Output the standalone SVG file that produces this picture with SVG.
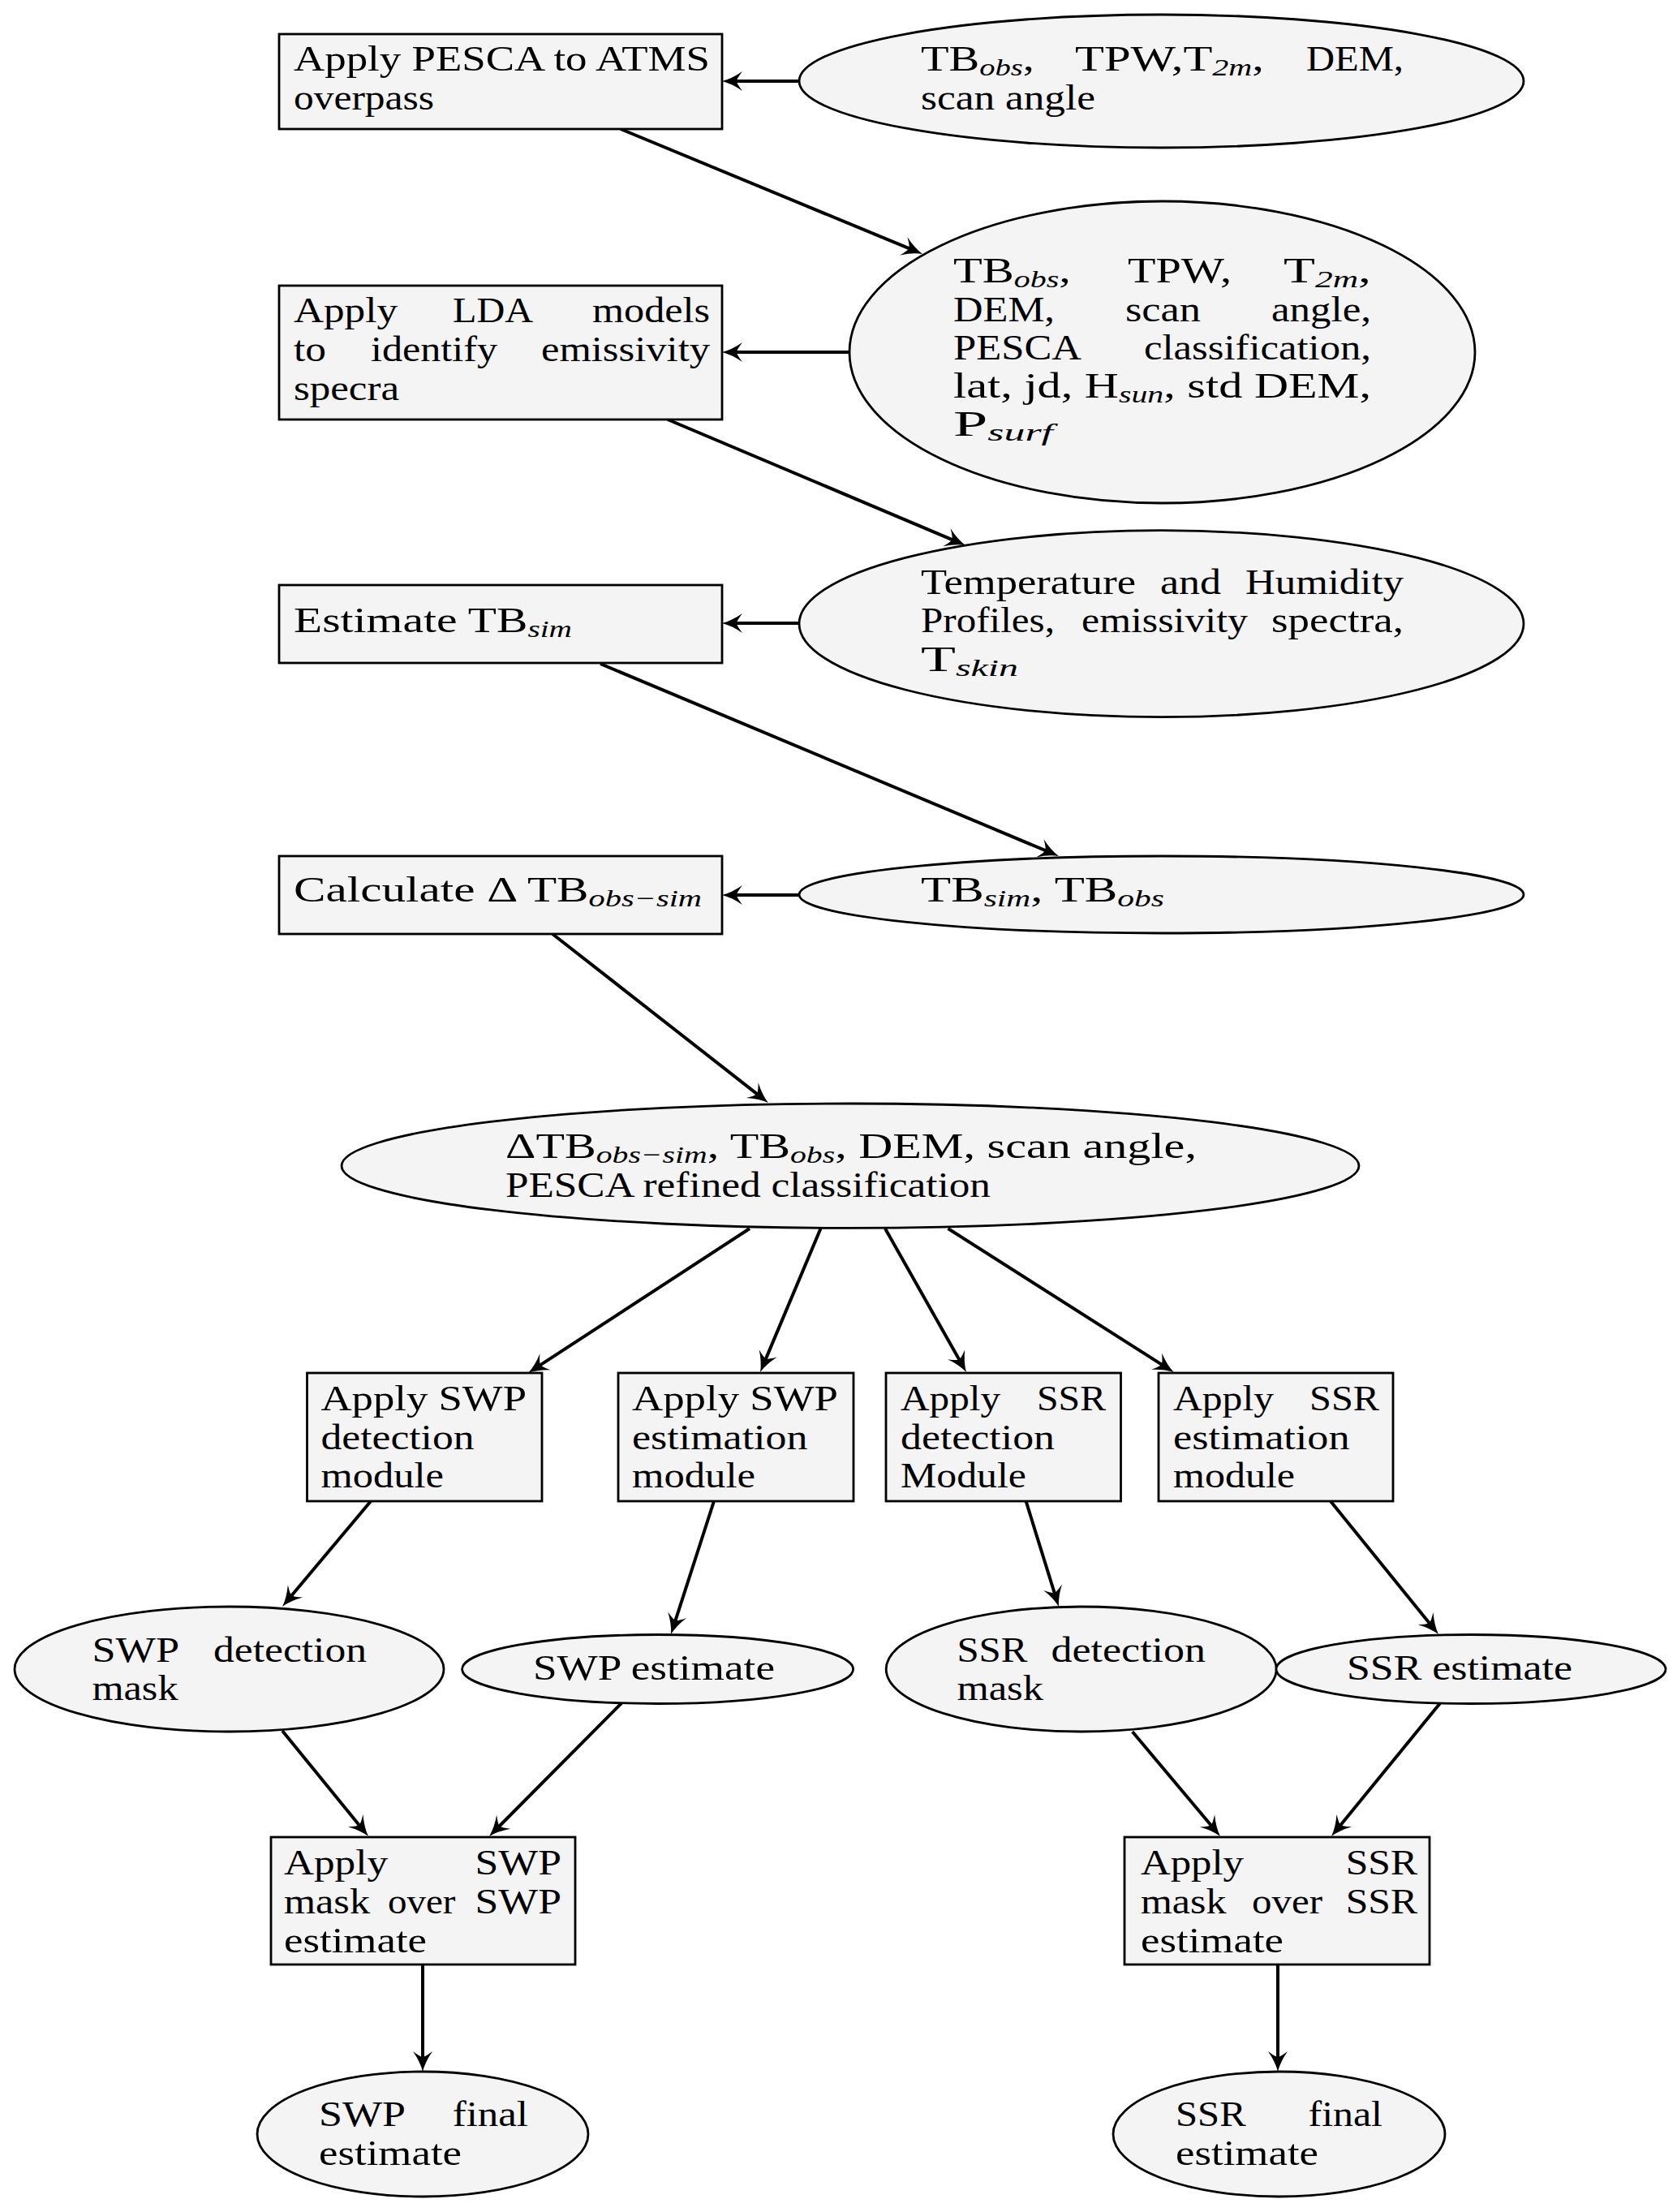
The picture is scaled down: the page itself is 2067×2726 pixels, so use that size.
<svg xmlns="http://www.w3.org/2000/svg" width="2067" height="2726" viewBox="0 0 2067 2726">
<style>
text{font-family:"Liberation Serif","Times New Roman",serif;font-size:44px;fill:#000}
.s{font-style:italic;font-size:30px}
rect,ellipse{fill:#f4f4f4;stroke:#000;stroke-width:2.8}
#edges line{stroke:#000;stroke-width:4;fill:none;marker-end:url(#ah)}
</style>
<defs>
<marker id="ah" markerUnits="userSpaceOnUse" orient="auto" refX="-12" refY="0" markerWidth="40" markerHeight="40" overflow="visible">
<path d="M0,0 Q-12,-3 -25,-12 Q-18,-3 -18,0 Q-18,3 -25,12 Q-12,3 0,0 Z" fill="#000"/>
</marker>
</defs>
<rect x="0" y="0" width="2067" height="2726" style="fill:#fff;stroke:none"/>

<g id="edges">
<line x1="985" y1="100" x2="902" y2="100"/>
<line x1="765" y1="159" x2="1125.9" y2="308.4"/>
<line x1="1047" y1="434" x2="902" y2="434"/>
<line x1="823" y1="517" x2="1178.9" y2="667.3"/>
<line x1="985" y1="768" x2="902" y2="768"/>
<line x1="740" y1="818" x2="1293.9" y2="1050.4"/>
<line x1="985" y1="1103" x2="902" y2="1103"/>
<line x1="681" y1="1151" x2="937.5" y2="1351.6"/>
<line x1="924" y1="1514" x2="661.1" y2="1685.4"/>
<line x1="1011.5" y1="1514" x2="941.7" y2="1679.9"/>
<line x1="1091" y1="1514" x2="1185.1" y2="1680.6"/>
<line x1="1168.5" y1="1514" x2="1436.6" y2="1684.6"/>
<line x1="457" y1="1850" x2="355.7" y2="1970.8"/>
<line x1="880" y1="1850" x2="830.7" y2="2002.6"/>
<line x1="1264.6" y1="1850" x2="1301.4" y2="1968.5"/>
<line x1="1640" y1="1850" x2="1765.4" y2="2004.7"/>
<line x1="348" y1="2133" x2="446.4" y2="2253.7"/>
<line x1="766" y1="2099" x2="611.5" y2="2254.5"/>
<line x1="1395.7" y1="2134" x2="1496.3" y2="2253.8"/>
<line x1="1775" y1="2099" x2="1648.6" y2="2253.7"/>
<line x1="521" y1="2421" x2="521" y2="2541"/>
<line x1="1575" y1="2421" x2="1575" y2="2541"/>
</g>

<g id="n1">
<rect x="344" y="42" width="546" height="117"/>
<text x="362" y="87" textLength="513" lengthAdjust="spacingAndGlyphs">Apply PESCA to ATMS</text>
<text x="362" y="135" textLength="173" lengthAdjust="spacingAndGlyphs">overpass</text>
</g>

<g id="n2">
<ellipse cx="1431.5" cy="100" rx="446.5" ry="82"/>
<text x="1135" y="87" textLength="140" lengthAdjust="spacingAndGlyphs">TB<tspan class="s" dy="6">obs</tspan><tspan dy="-6">,</tspan></text>
<text x="1325" y="87" textLength="233" lengthAdjust="spacingAndGlyphs">TPW,T<tspan class="s" dy="6">2m</tspan><tspan dy="-6">,</tspan></text>
<text x="1610" y="87" textLength="120" lengthAdjust="spacingAndGlyphs">DEM,</text>
<text x="1135" y="135" textLength="215" lengthAdjust="spacingAndGlyphs">scan angle</text>
</g>

<g id="n3">
<rect x="344" y="352" width="546" height="165"/>
<text x="362" y="397" textLength="128" lengthAdjust="spacingAndGlyphs">Apply</text>
<text x="558" y="397" textLength="99" lengthAdjust="spacingAndGlyphs">LDA</text>
<text x="730" y="397" textLength="145" lengthAdjust="spacingAndGlyphs">models</text>
<text x="362" y="445" textLength="40" lengthAdjust="spacingAndGlyphs">to</text>
<text x="457" y="445" textLength="156" lengthAdjust="spacingAndGlyphs">identify</text>
<text x="667" y="445" textLength="208" lengthAdjust="spacingAndGlyphs">emissivity</text>
<text x="362" y="493" textLength="130" lengthAdjust="spacingAndGlyphs">specra</text>
</g>

<g id="n4">
<ellipse cx="1432.5" cy="434" rx="385.5" ry="186"/>
<text x="1175" y="348" textLength="145" lengthAdjust="spacingAndGlyphs">TB<tspan class="s" dy="6">obs</tspan><tspan dy="-6">,</tspan></text>
<text x="1390" y="348" textLength="128" lengthAdjust="spacingAndGlyphs">TPW,</text>
<text x="1582" y="348" textLength="108" lengthAdjust="spacingAndGlyphs">T<tspan class="s" dy="6">2m</tspan><tspan dy="-6">,</tspan></text>
<text x="1175" y="396" textLength="125" lengthAdjust="spacingAndGlyphs">DEM,</text>
<text x="1387" y="396" textLength="93" lengthAdjust="spacingAndGlyphs">scan</text>
<text x="1567" y="396" textLength="123" lengthAdjust="spacingAndGlyphs">angle,</text>
<text x="1175" y="443" textLength="158" lengthAdjust="spacingAndGlyphs">PESCA</text>
<text x="1410" y="443" textLength="280" lengthAdjust="spacingAndGlyphs">classification,</text>
<text x="1175" y="490" textLength="515" lengthAdjust="spacingAndGlyphs">lat, jd, H<tspan class="s" dy="6">sun</tspan><tspan dy="-6">, std DEM,</tspan></text>
<text x="1175" y="537" textLength="123" lengthAdjust="spacingAndGlyphs">P<tspan class="s" dy="6">surf</tspan></text>
</g>

<g id="n5">
<rect x="344" y="721" width="546" height="96"/>
<text x="362" y="779" textLength="343" lengthAdjust="spacingAndGlyphs">Estimate TB<tspan class="s" dy="6">sim</tspan></text>
</g>

<g id="n6">
<ellipse cx="1431.5" cy="768.7" rx="446.5" ry="115"/>
<text x="1135" y="732" textLength="265" lengthAdjust="spacingAndGlyphs">Temperature</text>
<text x="1430" y="732" textLength="75" lengthAdjust="spacingAndGlyphs">and</text>
<text x="1535" y="732" textLength="195" lengthAdjust="spacingAndGlyphs">Humidity</text>
<text x="1135" y="779" textLength="165" lengthAdjust="spacingAndGlyphs">Profiles,</text>
<text x="1333" y="779" textLength="205" lengthAdjust="spacingAndGlyphs">emissivity</text>
<text x="1567" y="779" textLength="163" lengthAdjust="spacingAndGlyphs">spectra,</text>
<text x="1135" y="827" textLength="120" lengthAdjust="spacingAndGlyphs">T<tspan class="s" dy="6">skin</tspan></text>
</g>

<g id="n7">
<rect x="344" y="1055" width="546" height="96"/>
<text x="362" y="1111" textLength="503" lengthAdjust="spacingAndGlyphs">Calculate Δ TB<tspan class="s" dy="6">obs−sim</tspan></text>
</g>

<g id="n8">
<ellipse cx="1431.5" cy="1102.5" rx="446.5" ry="47.5"/>
<text x="1135" y="1111" textLength="300" lengthAdjust="spacingAndGlyphs">TB<tspan class="s" dy="6">sim</tspan><tspan dy="-6">, TB</tspan><tspan class="s" dy="6">obs</tspan></text>
</g>

<g id="n9">
<ellipse cx="1048" cy="1436.7" rx="627" ry="76.7"/>
<text x="623" y="1427" textLength="852" lengthAdjust="spacingAndGlyphs">ΔTB<tspan class="s" dy="6">obs−sim</tspan><tspan dy="-6">, TB</tspan><tspan class="s" dy="6">obs</tspan><tspan dy="-6">, DEM, scan angle,</tspan></text>
<text x="623" y="1475" textLength="598" lengthAdjust="spacingAndGlyphs">PESCA refined classification</text>
</g>

<g id="n10">
<rect x="378.5" y="1692" width="289.5" height="158"/>
<text x="395.5" y="1738" textLength="253.5" lengthAdjust="spacingAndGlyphs">Apply SWP</text>
<text x="395.5" y="1786" textLength="189" lengthAdjust="spacingAndGlyphs">detection</text>
<text x="395.5" y="1833" textLength="151.5" lengthAdjust="spacingAndGlyphs">module</text>
</g>

<g id="n11">
<rect x="762" y="1692" width="290" height="158"/>
<text x="779" y="1738" textLength="254" lengthAdjust="spacingAndGlyphs">Apply SWP</text>
<text x="779" y="1786" textLength="216.5" lengthAdjust="spacingAndGlyphs">estimation</text>
<text x="779" y="1833" textLength="152" lengthAdjust="spacingAndGlyphs">module</text>
</g>

<g id="n12">
<rect x="1092" y="1692" width="289.5" height="158"/>
<text x="1110" y="1738" textLength="123" lengthAdjust="spacingAndGlyphs">Apply</text>
<text x="1278" y="1738" textLength="85" lengthAdjust="spacingAndGlyphs">SSR</text>
<text x="1110" y="1786" textLength="190" lengthAdjust="spacingAndGlyphs">detection</text>
<text x="1110" y="1833" textLength="155" lengthAdjust="spacingAndGlyphs">Module</text>
</g>

<g id="n13">
<rect x="1428" y="1692" width="289" height="158"/>
<text x="1446" y="1738" textLength="124" lengthAdjust="spacingAndGlyphs">Apply</text>
<text x="1614" y="1738" textLength="86" lengthAdjust="spacingAndGlyphs">SSR</text>
<text x="1446" y="1786" textLength="217.6" lengthAdjust="spacingAndGlyphs">estimation</text>
<text x="1446" y="1833" textLength="150" lengthAdjust="spacingAndGlyphs">module</text>
</g>

<g id="n14">
<ellipse cx="282.5" cy="2057" rx="264.5" ry="77"/>
<text x="113.5" y="2048" textLength="107.5" lengthAdjust="spacingAndGlyphs">SWP</text>
<text x="263" y="2048" textLength="189" lengthAdjust="spacingAndGlyphs">detection</text>
<text x="113.5" y="2095" textLength="106" lengthAdjust="spacingAndGlyphs">mask</text>
</g>

<g id="n15">
<ellipse cx="810.6" cy="2057" rx="241" ry="42.5"/>
<text x="657" y="2070" textLength="298" lengthAdjust="spacingAndGlyphs">SWP estimate</text>
</g>

<g id="n16">
<ellipse cx="1332.7" cy="2057" rx="240.5" ry="77"/>
<text x="1179.4" y="2048" textLength="87" lengthAdjust="spacingAndGlyphs">SSR</text>
<text x="1295.6" y="2048" textLength="190.4" lengthAdjust="spacingAndGlyphs">detection</text>
<text x="1179.4" y="2095" textLength="106.6" lengthAdjust="spacingAndGlyphs">mask</text>
</g>

<g id="n17">
<ellipse cx="1813" cy="2057" rx="240" ry="42.5"/>
<text x="1660" y="2070" textLength="278" lengthAdjust="spacingAndGlyphs">SSR estimate</text>
</g>

<g id="n18">
<rect x="334" y="2264" width="375" height="157"/>
<text x="350" y="2310" textLength="128" lengthAdjust="spacingAndGlyphs">Apply</text>
<text x="585.6" y="2310" textLength="106.4" lengthAdjust="spacingAndGlyphs">SWP</text>
<text x="350" y="2358" textLength="106" lengthAdjust="spacingAndGlyphs">mask</text>
<text x="478" y="2358" textLength="83.5" lengthAdjust="spacingAndGlyphs">over</text>
<text x="585.6" y="2358" textLength="106.4" lengthAdjust="spacingAndGlyphs">SWP</text>
<text x="350" y="2406" textLength="176" lengthAdjust="spacingAndGlyphs">estimate</text>
</g>

<g id="n19">
<rect x="1386" y="2264" width="376" height="157"/>
<text x="1406" y="2310" textLength="127" lengthAdjust="spacingAndGlyphs">Apply</text>
<text x="1658.7" y="2310" textLength="88.3" lengthAdjust="spacingAndGlyphs">SSR</text>
<text x="1406" y="2358" textLength="105.5" lengthAdjust="spacingAndGlyphs">mask</text>
<text x="1543" y="2358" textLength="87" lengthAdjust="spacingAndGlyphs">over</text>
<text x="1658.7" y="2358" textLength="88.3" lengthAdjust="spacingAndGlyphs">SSR</text>
<text x="1406" y="2406" textLength="176" lengthAdjust="spacingAndGlyphs">estimate</text>
</g>

<g id="n20">
<ellipse cx="521" cy="2630" rx="204" ry="77"/>
<text x="393" y="2620" textLength="107" lengthAdjust="spacingAndGlyphs">SWP</text>
<text x="557.7" y="2620" textLength="93.3" lengthAdjust="spacingAndGlyphs">final</text>
<text x="393" y="2668" textLength="176" lengthAdjust="spacingAndGlyphs">estimate</text>
</g>

<g id="n21">
<ellipse cx="1576.5" cy="2630" rx="204.5" ry="77"/>
<text x="1449" y="2620" textLength="86.6" lengthAdjust="spacingAndGlyphs">SSR</text>
<text x="1612.5" y="2620" textLength="91.5" lengthAdjust="spacingAndGlyphs">final</text>
<text x="1449" y="2668" textLength="176" lengthAdjust="spacingAndGlyphs">estimate</text>
</g>
</svg>
